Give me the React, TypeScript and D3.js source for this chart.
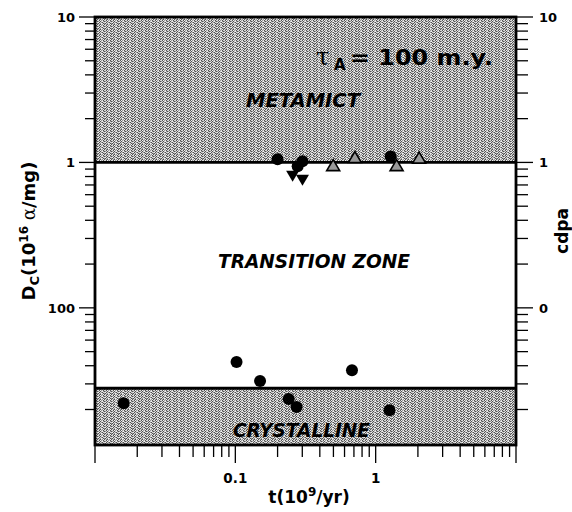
import React from 'react'
import * as d3 from 'd3'

// zone boundaries (D_c)
const metamictLimit = 1
const crystallineLimit = 0.028

// points: t (10^9 yr), D_c
const circleT = [0.2, 0.278, 0.301, 1.28, 0.016, 0.102, 0.15, 0.24, 0.273, 0.678, 1.255]
const circleD = [1.05, 0.94, 1.02, 1.1, 0.0221, 0.0425, 0.0314, 0.0236, 0.0208, 0.0373, 0.0198]
const downT = [0.256, 0.301]
const downD = [0.81, 0.76]
const upT = [0.498, 0.711, 1.41, 2.04]
const upD = [0.95, 1.08, 0.95, 1.07]

const yTickValues = [10, 1, 0.1]
const yLeftLabels = ['10', '1', '100']
const yRightLabels = ['10', '1', '0']
const xTickValues = [0.1, 1]
const xLabels = ['0.1', '1']

const W = 572
const H = 512
const m = { left: 95, right: 516, top: 17, bottom: 445 }
const font = '"DejaVu Sans", Verdana, sans-serif'

// 网点纹理
const tile = ['2031202', '1202310', '3021022', '0213201', '2102130']
const greys = ['#505050', '#959595', '#d6d6d6', '#f4f4f4']

export default function App() {
    // 定义比例尺
    const x = d3.scaleLog().domain([0.01, 10]).range([m.left, m.right])
    const y = d3.scaleLog().domain([10, 0.0114]).range([m.top, m.bottom])

    const xt = x.ticks().filter(v => v >= 0.01 && v <= 10)
    const yt = y.ticks().filter(v => v >= 0.0114 && v <= 10)
    const isMajor = (v: number) => Math.abs(Math.log10(v) - Math.round(Math.log10(v))) < 1e-6

    const tri = (cx: number, cy: number, down: boolean) => {
        const s = down ? 1 : -1
        return `M${cx - 6.5},${cy - 5 * s}L${cx + 6.5},${cy - 5 * s}L${cx},${cy + 6 * s}Z`
    }

    return (
        <svg width={W} height={H} style={{ position: 'absolute', left: 0, top: 0, background: '#fff' }}
            fontFamily={font}>
            <defs>
                <pattern id="shade" width={tile[0].length} height={tile.length} patternUnits="userSpaceOnUse">
                    {tile.map((row, r) => row.split('').map((c, k) => (
                        <rect key={r + '-' + k} x={k} y={r} width={1} height={1} fill={greys[+c]} shapeRendering="crispEdges" />
                    )))}
                </pattern>
            </defs>

            {/* zones */}
            <rect x={m.left} y={y(10)} width={m.right - m.left} height={y(metamictLimit) - y(10)} fill="url(#shade)" />
            <rect x={m.left} y={y(crystallineLimit)} width={m.right - m.left}
                height={m.bottom - y(crystallineLimit)} fill="url(#shade)" />
            <line x1={m.left} x2={m.right} y1={y(metamictLimit)} y2={y(metamictLimit)} stroke="#000" strokeWidth={2.8} />
            <line x1={m.left} x2={m.right} y1={y(crystallineLimit)} y2={y(crystallineLimit)} stroke="#000" strokeWidth={2.8} />
            <rect x={m.left} y={m.top} width={m.right - m.left} height={m.bottom - m.top}
                fill="none" stroke="#000" strokeWidth={2.8} />

            {/* zone labels */}
            <g fontWeight="bold" fontStyle="italic" fontSize={19}>
                <text x={246} y={107} textLength={114} lengthAdjust="spacingAndGlyphs">METAMICT</text>
                <text x={218} y={268} textLength={192} lengthAdjust="spacingAndGlyphs">TRANSITION ZONE</text>
                <text x={233} y={437} textLength={137} lengthAdjust="spacingAndGlyphs">CRYSTALLINE</text>
            </g>
            <text x={316} y={65} fontSize={24} fontFamily="DejaVu Serif, serif">τ</text>
            <text x={334} y={70} fontSize={15} fontWeight="bold">A</text>
            <text x={350} y={65} fontSize={22} fontWeight="bold" textLength={143} lengthAdjust="spacingAndGlyphs">
                = 100 m.y.
            </text>

            {/* left axis */}
            {yt.map((v, i) => (
                <line key={'yl' + i} x1={m.left - (isMajor(v) ? 16 : 10)} x2={m.left} y1={y(v)} y2={y(v)}
                    stroke="#000" strokeWidth={1.3} />
            ))}
            {yTickValues.map((v, i) => (
                <text key={'yll' + i} x={75} y={y(v) + 5} textAnchor="end" fontWeight="bold" fontSize={13}>
                    {yLeftLabels[i]}
                </text>
            ))}
            {/* right axis */}
            {yt.map((v, i) => (
                <line key={'yr' + i} x1={m.right} x2={m.right + (isMajor(v) ? 17 : 12)} y1={y(v)} y2={y(v)}
                    stroke="#000" strokeWidth={1.3} />
            ))}
            {yTickValues.map((v, i) => (
                <text key={'yrl' + i} x={539} y={y(v) + 5} fontWeight="bold" fontSize={13}>
                    {yRightLabels[i]}
                </text>
            ))}
            {/* bottom axis */}
            {xt.map((v, i) => (
                <line key={'x' + i} x1={x(v)} x2={x(v)} y1={m.bottom} y2={m.bottom + (isMajor(v) ? 18 : 12)}
                    stroke="#000" strokeWidth={1.3} />
            ))}
            {xTickValues.map((v, i) => (
                <text key={'xl' + i} x={x(v)} y={483} textAnchor="middle" fontWeight="bold" fontSize={13.5}>
                    {xLabels[i]}
                </text>
            ))}

            {/* axis titles */}
            <text x={309} y={503} textAnchor="middle" fontWeight="bold" fontSize={17}>
                t(10<tspan dy={-7} fontSize={12}>9</tspan><tspan dy={7}>/yr)</tspan>
            </text>
            <text transform="translate(35,231) rotate(-90)" textAnchor="middle" fontWeight="bold" fontSize={18}>
                D<tspan dy={4} fontSize={13}>C</tspan><tspan dy={-4}>(10</tspan>
                <tspan dy={-7} fontSize={12}>16</tspan>
                <tspan dy={7} fontWeight="normal" fontFamily="DejaVu Serif, serif"> α</tspan>
                <tspan>/mg)</tspan>
            </text>
            <text transform="translate(568,231) rotate(-90)" textAnchor="middle" fontWeight="bold" fontSize={17}>
                cdpa
            </text>

            {/* points */}
            {circleT.map((t, i) => (
                <circle key={'c' + i} cx={x(t)} cy={y(circleD[i])} r={6} fill="#000" />
            ))}
            {downT.map((t, i) => (
                <path key={'d' + i} d={tri(x(t), y(downD[i]), true)} fill="#000" />
            ))}
            {upT.map((t, i) => (
                <path key={'u' + i} d={tri(x(t), y(upD[i]), false)} fill="#9a9a9a" stroke="#000" strokeWidth={1.6} />
            ))}
        </svg>
    )
}
